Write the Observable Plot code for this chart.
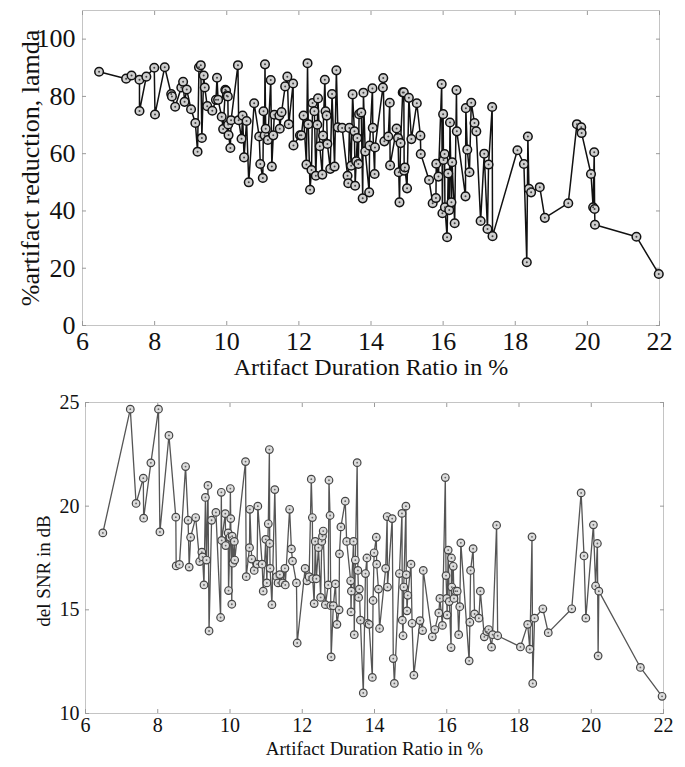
<!DOCTYPE html>
<html>
<head>
<meta charset="utf-8">
<script src="https://cdn.jsdelivr.net/npm/d3@7"></script>
<script src="https://cdn.jsdelivr.net/npm/@observablehq/plot@0.6"></script>
<style>
  html, body { margin: 0; padding: 0; background: #fff; }
  #chart svg { display: block; }
</style>
</head>
<body>
<div id="chart"></div>
<script>
// ---- Data ----
const xTicks = [6, 8, 10, 12, 14, 16, 18, 20, 22];
const yTicksTop = [0, 20, 40, 60, 80, 100];
const yTicksBottom = [10, 15, 20, 25];

const xLabel = "Artifact Duration Ratio in %";
const yLabelTop = "%artifact reduction, lamda";
const yLabelBottom = "del SNR in dB";

// Top panel: artifact duration ratio (%) vs. % artifact reduction (lamda)
const xTop = [6.46,7.21,7.36,7.58,7.58,7.77,7.99,8.01,8.28,8.46,8.48,8.57,8.74,8.79,8.83,8.89,9.01,9.13,9.19,9.23,
  9.28,9.31,9.36,9.39,9.46,9.60,9.70,9.73,9.76,9.86,9.90,9.96,9.98,10.00,10.03,10.04,10.05,10.10,10.12,10.31,
  10.33,10.41,10.44,10.48,10.55,10.61,10.76,10.90,10.93,11.00,11.02,11.05,11.06,11.08,11.14,11.22,11.25,11.29,11.32,11.46,
  11.47,11.52,11.62,11.68,11.72,11.84,11.85,12.03,12.07,12.13,12.21,12.24,12.26,12.31,12.35,12.38,12.43,12.47,12.51,12.53,
  12.58,12.65,12.67,12.72,12.74,12.77,12.79,12.87,12.92,12.99,13.04,13.08,13.20,13.35,13.37,13.40,13.45,13.49,13.54,13.56,
  13.59,13.62,13.65,13.67,13.73,13.77,13.79,13.84,13.95,13.96,14.04,14.05,14.10,14.11,14.33,14.34,14.37,14.48,14.52,14.53,
  14.71,14.75,14.77,14.79,14.82,14.88,14.91,14.92,14.94,15.00,15.05,15.12,15.27,15.37,15.38,15.61,15.71,15.80,15.81,15.87,
  15.96,15.98,16.00,16.01,16.04,16.05,16.11,16.14,16.17,16.19,16.23,16.25,16.32,16.37,16.38,16.62,16.63,16.67,16.73,16.78,
  16.87,16.92,17.04,17.14,17.23,17.26,17.36,17.37,18.06,18.24,18.32,18.35,18.38,18.44,18.68,18.82,19.47,19.71,19.83,19.84,
  20.10,20.16,20.19,20.20,20.21,21.36,21.98];
const lamda = [88.6,86.2,87.3,85.8,74.9,86.9,90.0,73.7,90.2,80.8,80.0,76.4,83.1,85.1,78.1,82.4,75.5,70.7,60.7,90.2,
  90.9,65.5,87.3,83.1,76.6,75.0,78.8,86.5,78.8,72.9,68.6,82.3,82.0,80.2,80.0,70.2,66.5,62.0,71.7,90.9,
  71.7,65.2,73.3,58.7,71.4,50.0,77.6,66.0,56.4,51.5,74.8,66.4,91.2,68.7,64.8,85.7,55.5,66.4,73.6,73.3,
  68.7,74.5,83.5,86.9,70.3,84.5,62.9,66.4,66.4,73.3,56.2,91.6,70.3,47.4,54.3,77.7,74.8,52.3,70.1,79.3,
  62.6,52.7,66.3,85.8,74.8,73.3,63.4,54.7,80.8,55.5,89.1,69.2,69.0,52.3,49.7,69.0,55.8,80.7,67.8,48.8,
  57.3,65.5,56.4,73.8,74.4,44.4,81.3,60.8,46.5,62.8,82.8,69.0,52.9,62.2,83.1,86.4,64.3,66.0,77.8,55.9,
  68.8,65.5,53.5,43.0,63.7,81.4,81.4,54.1,55.2,47.9,79.5,65.1,77.6,66.3,59.9,50.8,42.7,44.5,56.5,52.0,
  84.3,39.2,73.8,57.8,59.9,41.3,30.8,53.1,40.3,70.9,43.0,57.0,35.7,82.2,67.8,45.1,75.9,61.4,53.5,77.8,
  70.7,67.8,36.5,60.0,33.7,56.2,76.3,31.2,61.2,56.4,22.1,66.0,47.7,46.5,48.3,37.6,42.7,70.3,69.2,67.2,
  52.9,41.3,60.5,40.7,35.2,31.0,18.0];

// Bottom panel: artifact duration ratio (%) vs. del SNR (dB)
const xBottom = [6.48,7.24,7.40,7.60,7.61,7.81,8.02,8.06,8.31,8.50,8.51,8.60,8.77,8.84,8.87,8.91,9.05,9.16,9.22,9.24,
  9.28,9.32,9.35,9.39,9.42,9.49,9.61,9.74,9.76,9.77,9.87,9.88,9.95,9.96,10.00,10.01,10.02,10.05,10.06,10.08,
  10.12,10.13,10.43,10.45,10.54,10.55,10.60,10.67,10.75,10.77,10.89,10.92,10.99,11.02,11.06,11.09,11.10,11.11,11.16,11.24,
  11.29,11.33,11.38,11.46,11.52,11.53,11.65,11.70,11.73,11.84,11.86,12.08,12.13,12.19,12.25,12.28,12.29,12.33,12.36,12.39,
  12.45,12.51,12.54,12.56,12.58,12.64,12.72,12.74,12.77,12.79,12.80,12.86,12.92,12.96,13.02,13.03,13.07,13.19,13.23,13.34,
  13.35,13.36,13.42,13.44,13.47,13.52,13.54,13.56,13.58,13.61,13.69,13.75,13.79,13.81,13.85,13.94,13.96,13.99,14.05,14.06,
  14.11,14.14,14.31,14.35,14.36,14.49,14.52,14.55,14.69,14.76,14.77,14.79,14.81,14.87,14.88,14.90,14.92,15.01,15.04,15.09,
  15.26,15.33,15.35,15.60,15.67,15.78,15.81,15.88,15.96,15.98,16.00,16.01,16.04,16.07,16.12,16.13,16.14,16.18,16.20,16.24,
  16.29,16.33,16.36,16.39,16.62,16.64,16.66,16.73,16.77,16.89,16.93,17.04,17.11,17.16,17.24,17.27,17.38,17.41,18.04,18.24,
  18.30,18.36,18.38,18.43,18.66,18.81,19.46,19.72,19.80,19.85,20.06,20.12,20.17,20.19,20.21,21.36,21.96];
const snr = [18.71,24.68,20.13,21.35,19.42,22.09,24.68,18.76,23.41,19.47,17.12,17.19,21.91,19.32,17.06,18.50,19.45,17.33,17.78,17.55,
  16.20,20.42,17.40,21.00,13.98,19.32,19.70,14.63,20.67,18.35,19.64,18.10,18.71,15.93,18.50,20.85,19.40,15.27,18.55,17.25,
  18.30,17.40,22.15,16.60,18.00,19.85,17.45,16.90,17.20,20.00,17.20,15.90,18.40,16.30,19.15,22.73,18.20,17.00,15.25,20.80,
  16.60,16.30,16.70,16.30,17.00,16.20,19.85,17.94,17.35,16.30,13.40,17.00,16.40,16.60,21.30,19.45,16.50,15.30,18.30,16.50,
  18.00,15.60,18.30,18.55,18.80,15.25,16.20,21.25,19.55,15.20,12.73,15.20,16.25,14.30,15.00,17.70,19.00,20.24,18.30,16.40,
  14.90,15.90,18.30,13.80,17.40,22.10,16.90,15.60,16.00,14.50,10.99,16.75,17.50,14.35,14.30,11.74,15.45,17.75,18.50,17.20,
  16.00,14.10,17.00,19.50,16.10,19.40,12.65,11.45,16.75,19.65,14.50,13.75,16.10,20.00,16.70,14.95,15.70,17.20,14.35,11.85,
  14.48,14.00,16.90,13.70,14.05,14.85,15.55,14.25,21.38,16.65,15.55,14.75,17.88,15.40,13.18,17.50,16.10,17.10,15.55,15.90,
  15.90,13.80,15.15,18.23,12.54,14.40,16.90,17.95,14.80,14.60,15.90,13.70,13.95,14.05,13.20,13.80,19.08,13.75,13.21,14.30,
  13.10,18.52,11.45,14.60,15.05,13.90,15.05,20.64,17.60,14.60,19.10,16.15,18.20,12.78,15.90,12.22,10.83];

(function () {
  const topData = xTop.map((x, i) => ({x, y: lamda[i]}));
  const bottomData = xBottom.map((x, i) => ({x, y: snr[i]}));

  function framedAxes(xt, yt, opts) {
    const tickStroke = "#9a9a9a";
    return [
      Plot.frame({stroke: "#c4c4c4", strokeWidth: 1}),
      Plot.axisX({anchor: "bottom", ticks: xt, tickSize: -4, tickPadding: opts.xPad, stroke: tickStroke, fill: "#111", label: null}),
      Plot.axisX({anchor: "top", ticks: xt, tickSize: -4, tickFormat: () => "", stroke: tickStroke, label: null}),
      Plot.axisY({anchor: "left", ticks: yt, tickSize: -4, tickPadding: opts.yPad, stroke: tickStroke, fill: "#111", label: null}),
      Plot.axisY({anchor: "right", ticks: yt, tickSize: -4, tickFormat: () => "", stroke: tickStroke, label: null})
    ];
  }

  const topPlot = Plot.plot({
    width: 685, height: 380,
    marginLeft: 82, marginRight: 26, marginTop: 10, marginBottom: 55,
    style: {fontFamily: "'Liberation Serif', 'DejaVu Serif', serif", fontSize: "26px", color: "#111", background: "#fff"},
    x: {domain: [6, 22]},
    y: {domain: [0, 110]},
    marks: [
      ...framedAxes(xTicks, yTicksTop, {xPad: 10, yPad: 11}),
      Plot.line(topData, {x: "x", y: "y", stroke: "#111", strokeWidth: 1.5}),
      Plot.dot(topData, {x: "x", y: "y", r: 4.3, stroke: "#111", strokeWidth: 1.5, fill: "#cfcfcf"}),
      Plot.dot(topData, {x: "x", y: "y", r: 1, fill: "#444"}),
      Plot.text([xLabel], {frameAnchor: "bottom", lineAnchor: "middle", textAnchor: "middle", dy: 42, fontSize: 24, fill: "#111"}),
      Plot.text([yLabelTop], {frameAnchor: "left", lineAnchor: "middle", textAnchor: "middle", dx: -52, rotate: -90, fontSize: 26, fill: "#111"})
    ]
  });

  const bottomPlot = Plot.plot({
    width: 685, height: 387,
    marginLeft: 85, marginRight: 22, marginTop: 22, marginBottom: 54,
    style: {fontFamily: "'Liberation Serif', 'DejaVu Serif', serif", fontSize: "20px", color: "#111", background: "#fff"},
    x: {domain: [6, 22]},
    y: {domain: [10, 25]},
    marks: [
      ...framedAxes(xTicks, yTicksBottom, {xPad: 8, yPad: 10}),
      Plot.line(bottomData, {x: "x", y: "y", stroke: "#555", strokeWidth: 1.3}),
      Plot.dot(bottomData, {x: "x", y: "y", r: 3.8, stroke: "#444", strokeWidth: 1.2, fill: "#dcdcdc"}),
      Plot.dot(bottomData, {x: "x", y: "y", r: 0.9, fill: "#666"}),
      Plot.text([xLabel], {frameAnchor: "bottom", lineAnchor: "middle", textAnchor: "middle", dy: 35, fontSize: 19, fill: "#111"}),
      Plot.text([yLabelBottom], {frameAnchor: "left", lineAnchor: "middle", textAnchor: "middle", dx: -42, dy: 13, rotate: -90, fontSize: 19, fill: "#111"})
    ]
  });

  const el = document.getElementById("chart");
  el.appendChild(topPlot);
  el.appendChild(bottomPlot);
})();
</script>
</body>
</html>
